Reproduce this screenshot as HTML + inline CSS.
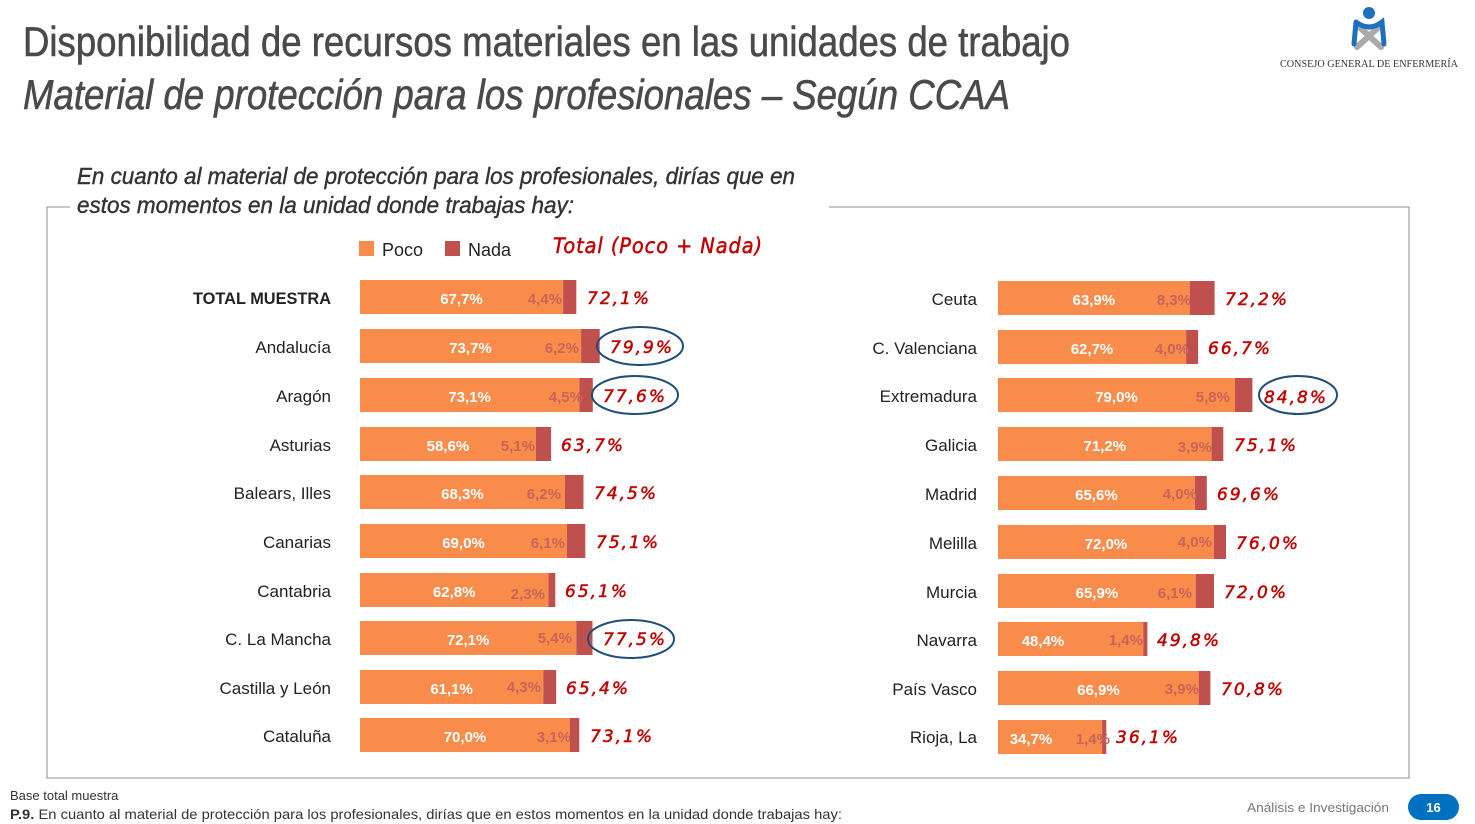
<!DOCTYPE html>
<html><head><meta charset="utf-8"><style>
html,body{margin:0;padding:0;background:#fff;}
svg{display:block;}
.n{font-family:"Liberation Sans",sans-serif;font-size:17px;fill:#222;text-anchor:end;}
.p{font-family:"Liberation Sans",sans-serif;font-size:15px;font-weight:bold;fill:#fff;text-anchor:middle;}
.d{font-family:"Liberation Sans",sans-serif;font-size:15px;font-weight:bold;fill:#C8645A;text-anchor:end;}
.t{font-family:"DejaVu Sans","Liberation Sans",sans-serif;font-size:17px;font-style:italic;fill:#C00000;letter-spacing:2px;stroke:#C00000;stroke-width:0.5;}
.o{fill:#F98C4A;}
.r{fill:#C0504D;}
.c{fill:none;stroke:#1F4E79;stroke-width:2;}
</style></head><body>
<svg width="1475" height="824" viewBox="0 0 1475 824" xmlns="http://www.w3.org/2000/svg">
<text x="23" y="56" font-family="Liberation Sans,sans-serif" font-size="42" fill="#4a4a4a" stroke="#4a4a4a" stroke-width="0.6" textLength="1047" lengthAdjust="spacingAndGlyphs">Disponibilidad de recursos materiales en las unidades de trabajo</text>
<text x="23" y="109" font-family="Liberation Sans,sans-serif" font-size="42" font-style="italic" fill="#4a4a4a" stroke="#4a4a4a" stroke-width="0.6" textLength="987" lengthAdjust="spacingAndGlyphs">Material de protección para los profesionales – Según CCAA</text>
<!-- logo -->
<circle cx="1369" cy="13" r="6" fill="#1F6FC1"/>
<path d="M1357 25 L1381 47 M1381 25 L1357 47" stroke="#aaa" stroke-width="6" stroke-linecap="round"/>
<path d="M1356 22 Q1369 32 1382 22 L1384 44 M1356 22 L1354 44" stroke="#1F6FC1" stroke-width="5" fill="none" stroke-linecap="round"/>
<text x="1369" y="67" font-family="Liberation Serif,serif" font-size="11" fill="#333" text-anchor="middle" textLength="178" lengthAdjust="spacingAndGlyphs">CONSEJO GENERAL DE ENFERMERÍA</text>
<!-- box -->
<path d="M70 207 H47 V778 H1409 V207 H829" fill="none" stroke="#A6A6A6" stroke-width="1.3"/>
<text x="77" y="184" font-family="Liberation Sans,sans-serif" font-size="23" font-style="italic" fill="#333" stroke="#333" stroke-width="0.4" textLength="718" lengthAdjust="spacingAndGlyphs">En cuanto al material de protección para los profesionales, dirías que en</text>
<text x="77" y="213" font-family="Liberation Sans,sans-serif" font-size="23" font-style="italic" fill="#333" stroke="#333" stroke-width="0.4" textLength="497" lengthAdjust="spacingAndGlyphs">estos momentos en la unidad donde trabajas hay:</text>
<!-- legend -->
<rect x="359" y="241" width="15" height="15" class="o"/>
<text x="382" y="256" font-family="Liberation Sans,sans-serif" font-size="18" fill="#222">Poco</text>
<rect x="445" y="241" width="15" height="15" class="r"/>
<text x="468" y="256" font-family="Liberation Sans,sans-serif" font-size="18" fill="#222">Nada</text>
<text x="553" y="253" class="t" style="font-size:21px;letter-spacing:1px" textLength="210" lengthAdjust="spacingAndGlyphs">Total (Poco + Nada)</text>

<!-- left rows -->
<g>
<text x="331" y="304" class="n" font-weight="bold" textLength="138" lengthAdjust="spacingAndGlyphs">TOTAL MUESTRA</text>
<rect x="360" y="280" width="203.1" height="34" class="o"/><rect x="563.1" y="280" width="13.2" height="34" class="r"/>
<text x="461.5" y="304" class="p">67,7%</text><text x="562" y="304" class="d">4,4%</text><text x="587" y="304" class="t">72,1%</text>

<text x="331" y="353" class="n">Andalucía</text>
<rect x="360" y="329" width="221.1" height="34" class="o"/><rect x="581.1" y="329" width="18.6" height="34" class="r"/>
<text x="470.5" y="353" class="p">73,7%</text><text x="579" y="353" class="d">6,2%</text><text x="610" y="353" class="t">79,9%</text>
<ellipse cx="640" cy="346" rx="43" ry="19" class="c"/>

<text x="331" y="402" class="n">Aragón</text>
<rect x="360" y="378" width="219.3" height="34" class="o"/><rect x="579.3" y="378" width="13.5" height="34" class="r"/>
<text x="469.6" y="402" class="p">73,1%</text><text x="583" y="402" class="d">4,5%</text><text x="603" y="402" class="t">77,6%</text>
<ellipse cx="635" cy="395" rx="43" ry="19" class="c"/>

<text x="331" y="451" class="n">Asturias</text>
<rect x="360" y="427" width="175.8" height="34" class="o"/><rect x="535.8" y="427" width="15.3" height="34" class="r"/>
<text x="447.9" y="451" class="p">58,6%</text><text x="535" y="451" class="d">5,1%</text><text x="561" y="451" class="t">63,7%</text>

<text x="331" y="499" class="n">Balears, Illes</text>
<rect x="360" y="475" width="204.9" height="34" class="o"/><rect x="564.9" y="475" width="18.6" height="34" class="r"/>
<text x="462.4" y="499" class="p">68,3%</text><text x="561" y="499" class="d">6,2%</text><text x="594" y="499" class="t">74,5%</text>

<text x="331" y="548" class="n">Canarias</text>
<rect x="360" y="524" width="207" height="34" class="o"/><rect x="567" y="524" width="18.3" height="34" class="r"/>
<text x="463.5" y="548" class="p">69,0%</text><text x="565" y="548" class="d">6,1%</text><text x="596" y="548" class="t">75,1%</text>

<text x="331" y="597" class="n">Cantabria</text>
<rect x="360" y="573" width="188.4" height="34" class="o"/><rect x="548.4" y="573" width="6.9" height="34" class="r"/>
<text x="454.2" y="597" class="p">62,8%</text><text x="545" y="599" class="d">2,3%</text><text x="565" y="597" class="t">65,1%</text>

<text x="331" y="645" class="n">C. La Mancha</text>
<rect x="360" y="621" width="216.3" height="34" class="o"/><rect x="576.3" y="621" width="16.2" height="34" class="r"/>
<text x="468.1" y="645" class="p">72,1%</text><text x="572" y="643" class="d">5,4%</text><text x="603" y="645" class="t">77,5%</text>
<ellipse cx="631" cy="639" rx="43" ry="19" class="c"/>

<text x="331" y="694" class="n">Castilla y León</text>
<rect x="360" y="670" width="183.3" height="34" class="o"/><rect x="543.3" y="670" width="12.9" height="34" class="r"/>
<text x="451.6" y="694" class="p">61,1%</text><text x="541" y="692" class="d">4,3%</text><text x="566" y="694" class="t">65,4%</text>

<text x="331" y="742" class="n">Cataluña</text>
<rect x="360" y="718" width="210" height="34" class="o"/><rect x="570" y="718" width="9.3" height="34" class="r"/>
<text x="465" y="742" class="p">70,0%</text><text x="571" y="742" class="d">3,1%</text><text x="590" y="742" class="t">73,1%</text>
</g>

<!-- right rows -->
<g>
<text x="977" y="305" class="n">Ceuta</text>
<rect x="998" y="281" width="191.7" height="34" class="o"/><rect x="1189.7" y="281" width="24.9" height="34" class="r"/>
<text x="1093.8" y="305" class="p">63,9%</text><text x="1191" y="305" class="d">8,3%</text><text x="1225" y="305" class="t">72,2%</text>

<text x="977" y="354" class="n">C. Valenciana</text>
<rect x="998" y="330" width="188.1" height="34" class="o"/><rect x="1186.1" y="330" width="12" height="34" class="r"/>
<text x="1092" y="354" class="p">62,7%</text><text x="1189" y="354" class="d">4,0%</text><text x="1208" y="354" class="t">66,7%</text>

<text x="977" y="402" class="n">Extremadura</text>
<rect x="998" y="378" width="237" height="34" class="o"/><rect x="1235" y="378" width="17.4" height="34" class="r"/>
<text x="1116.5" y="402" class="p">79,0%</text><text x="1230" y="402" class="d">5,8%</text><text x="1264" y="403" class="t">84,8%</text>
<ellipse cx="1298" cy="395" rx="39" ry="19" class="c"/>

<text x="977" y="451" class="n">Galicia</text>
<rect x="998" y="427" width="213.6" height="34" class="o"/><rect x="1211.6" y="427" width="11.7" height="34" class="r"/>
<text x="1104.8" y="451" class="p">71,2%</text><text x="1212" y="452" class="d">3,9%</text><text x="1234" y="451" class="t">75,1%</text>

<text x="977" y="500" class="n">Madrid</text>
<rect x="998" y="476" width="196.8" height="34" class="o"/><rect x="1194.8" y="476" width="12" height="34" class="r"/>
<text x="1096.4" y="500" class="p">65,6%</text><text x="1197" y="499" class="d">4,0%</text><text x="1217" y="500" class="t">69,6%</text>

<text x="977" y="549" class="n">Melilla</text>
<rect x="998" y="525" width="216" height="34" class="o"/><rect x="1214" y="525" width="12" height="34" class="r"/>
<text x="1106" y="549" class="p">72,0%</text><text x="1212" y="547" class="d">4,0%</text><text x="1236" y="549" class="t">76,0%</text>

<text x="977" y="598" class="n">Murcia</text>
<rect x="998" y="574" width="197.7" height="34" class="o"/><rect x="1195.7" y="574" width="18.3" height="34" class="r"/>
<text x="1096.9" y="598" class="p">65,9%</text><text x="1192" y="598" class="d">6,1%</text><text x="1224" y="598" class="t">72,0%</text>

<text x="977" y="646" class="n">Navarra</text>
<rect x="998" y="622" width="145.2" height="34" class="o"/><rect x="1143.2" y="622" width="4.2" height="34" class="r"/>
<text x="1043" y="646" class="p">48,4%</text><text x="1143" y="645" class="d">1,4%</text><text x="1157" y="646" class="t">49,8%</text>

<text x="977" y="695" class="n">País Vasco</text>
<rect x="998" y="671" width="200.7" height="34" class="o"/><rect x="1198.7" y="671" width="11.7" height="34" class="r"/>
<text x="1098.4" y="695" class="p">66,9%</text><text x="1199" y="694" class="d">3,9%</text><text x="1221" y="695" class="t">70,8%</text>

<text x="977" y="743" class="n">Rioja, La</text>
<rect x="998" y="720" width="104.1" height="34" class="o"/><rect x="1102.1" y="720" width="4.2" height="34" class="r"/>
<text x="1031" y="744" class="p">34,7%</text><text x="1110" y="744" class="d">1,4%</text><text x="1116" y="743" class="t">36,1%</text>
</g>

<!-- footer -->
<text x="10" y="800" font-family="Liberation Sans,sans-serif" font-size="13" fill="#333">Base total muestra</text>
<text x="10" y="819" font-family="Liberation Sans,sans-serif" font-size="14" fill="#333" textLength="832" lengthAdjust="spacingAndGlyphs"><tspan font-weight="bold">P.9.</tspan> En cuanto al material de protección para los profesionales, dirías que en estos momentos en la unidad donde trabajas hay:</text>
<text x="1389" y="812" font-family="Liberation Sans,sans-serif" font-size="13" fill="#777" text-anchor="end" textLength="142" lengthAdjust="spacingAndGlyphs">Análisis e Investigación</text>
<rect x="1408" y="794" width="51" height="26" rx="13" fill="#0070C0"/>
<text x="1433.5" y="812" font-family="Liberation Sans,sans-serif" font-size="13" font-weight="bold" fill="#fff" text-anchor="middle">16</text>
</svg>
</body></html>
